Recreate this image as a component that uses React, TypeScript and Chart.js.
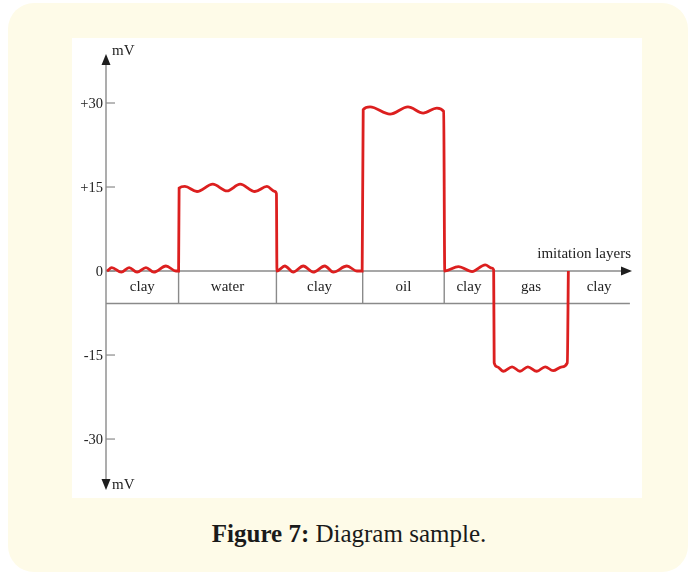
import React, { useEffect, useRef } from 'react';
import { Chart, registerables } from 'chart.js';

Chart.register(...registerables);

// Red SP curve: position along the profile (0..100) and potential (mV)
const curveX = [
  0.2, 1.1, 2.9, 4.4, 5.9, 7.6, 9.1, 11.4, 13.3, 13.8,
  13.9, 15.0, 17.3, 20.3, 23.0, 25.5, 28.3, 30.6, 32.1, 32.4,
  32.5, 34.0, 35.6, 37.5, 39.4, 41.6, 43.2, 45.8, 47.7, 48.7,
  48.9, 50.2, 54.0, 57.4, 60.3, 62.9, 64.2, 64.4,
  67.0, 69.6, 72.1, 73.4, 73.7,
  73.8, 74.4, 75.5, 77.2, 78.7, 80.2, 81.9, 83.5, 85.0, 86.7, 87.7, 87.9,
];
const curveY = [
  0.0, 0.6, -0.2, 0.6, -0.2, 0.6, -0.2, 0.9, 0.0, 0.0,
  14.8, 15.1, 14.2, 15.5, 14.3, 15.5, 14.2, 15.1, 14.2, 13.8,
  0.0, 0.9, -0.2, 0.9, -0.2, 0.9, -0.2, 0.9, 0.0, 0.0,
  28.8, 29.3, 28.0, 29.3, 28.2, 29.1, 28.5, 0.0,
  0.8, -0.1, 1.1, 0.5, 0.2,
  -16.4, -17.1, -17.9, -17.1, -17.9, -17.1, -17.9, -17.1, -17.8, -17.1, -16.4, 0.0,
];

const layerNames = ['clay', 'water', 'clay', 'oil', 'clay', 'gas', 'clay'];
const layerBounds = [0, 13.8, 32.4, 48.8, 64.3, 73.7, 87.9, 99.6];
const tableBottom = -5.8;

const yTickValues = [30, 15, 0, -15, -30];
const yTickLabels = ['+30', '+15', '0', '-15', '-30'];
const axisUnit = 'mV';
const xAxisTitle = 'imitation layers';
const captionBold = 'Figure 7:';
const captionText = ' Diagram sample.';

const X_MIN = 0;
const X_MAX = 100;
const Y_MIN = -39.1;
const Y_MAX = 38.75;

const SERIF = '"Liberation Serif", "Times New Roman", serif';

const diagramPlugin = {
  id: 'diagram',
  beforeDatasetsDraw(chart: any) {
    const { ctx, scales } = chart;
    const x = scales.x;
    const y = scales.y;
    const ax = x.getPixelForValue(X_MIN);
    const ay = y.getPixelForValue(0);
    const yTop = y.getPixelForValue(Y_MAX);
    const yBot = y.getPixelForValue(Y_MIN);
    const xEnd = x.getPixelForValue(X_MAX);
    const tb = y.getPixelForValue(tableBottom);
    const tableEnd = x.getPixelForValue(layerBounds[layerBounds.length - 1]);

    const line = (x1: number, y1: number, x2: number, y2: number) => {
      ctx.beginPath();
      ctx.moveTo(x1, y1);
      ctx.lineTo(x2, y2);
      ctx.stroke();
    };

    ctx.save();
    ctx.strokeStyle = '#8a8a8a';
    ctx.lineWidth = 1.4;
    // vertical axis
    line(ax, yTop + 8, ax, yBot - 8);
    // horizontal axis
    line(ax, ay, xEnd - 8, ay);
    // table bottom line
    line(ax, tb, tableEnd, tb);
    // layer dividers
    for (let i = 1; i < layerBounds.length - 1; i++) {
      const bx = x.getPixelForValue(layerBounds[i]);
      line(bx, ay, bx, tb);
    }
    // y ticks
    ctx.lineWidth = 1.2;
    yTickValues.forEach((v) => {
      const py = y.getPixelForValue(v);
      line(ax, py, ax + 9, py);
    });

    // arrowheads
    ctx.fillStyle = '#1e1e1e';
    ctx.beginPath();
    ctx.moveTo(ax, yTop);
    ctx.lineTo(ax - 4.5, yTop + 11);
    ctx.lineTo(ax + 4.5, yTop + 11);
    ctx.closePath();
    ctx.fill();
    ctx.beginPath();
    ctx.moveTo(ax, yBot);
    ctx.lineTo(ax - 4.5, yBot - 11);
    ctx.lineTo(ax + 4.5, yBot - 11);
    ctx.closePath();
    ctx.fill();
    ctx.beginPath();
    ctx.moveTo(xEnd, ay);
    ctx.lineTo(xEnd - 11, ay - 4.5);
    ctx.lineTo(xEnd - 11, ay + 4.5);
    ctx.closePath();
    ctx.fill();

    // texts
    ctx.fillStyle = '#222222';
    ctx.font = `14.5px ${SERIF}`;
    ctx.textAlign = 'right';
    ctx.textBaseline = 'middle';
    yTickValues.forEach((v, i) => {
      const py = y.getPixelForValue(v);
      ctx.fillText(yTickLabels[i], ax - 3, py + 1);
    });

    ctx.font = `15px ${SERIF}`;
    ctx.textAlign = 'left';
    ctx.fillText(axisUnit, ax + 6, yTop - 3);
    ctx.fillText(axisUnit, ax + 6, yBot - 5);

    ctx.font = `15px ${SERIF}`;
    ctx.textAlign = 'right';
    ctx.fillText(xAxisTitle, xEnd - 1, y.getPixelForValue(3.0));

    ctx.font = `15px ${SERIF}`;
    ctx.textAlign = 'center';
    const my = y.getPixelForValue(tableBottom / 2);
    layerNames.forEach((name, i) => {
      const cx = (x.getPixelForValue(layerBounds[i]) + x.getPixelForValue(layerBounds[i + 1])) / 2;
      ctx.fillText(name, cx, my);
    });
    ctx.restore();
  },
};

export default function App() {
  const canvasRef = useRef<HTMLCanvasElement | null>(null);

  useEffect(() => {
    if (!canvasRef.current) return;
    const data = curveX.map((xv, i) => ({ x: xv, y: curveY[i] }));
    const chart = new Chart(canvasRef.current, {
      type: 'line',
      data: {
        datasets: [
          {
            data,
            borderColor: '#dc1f1f',
            borderWidth: 2.8,
            pointRadius: 0,
            fill: false,
            cubicInterpolationMode: 'monotone',
          },
        ],
      },
      options: {
        responsive: false,
        animation: false,
        devicePixelRatio: 1,
        layout: { padding: { left: 34, right: 10, top: 16, bottom: 8 } },
        plugins: { legend: { display: false }, tooltip: { enabled: false } },
        events: [],
        scales: {
          x: { type: 'linear', min: X_MIN, max: X_MAX, display: false },
          y: { type: 'linear', min: Y_MIN, max: Y_MAX, display: false },
        },
      },
      plugins: [diagramPlugin],
    } as any);
    return () => chart.destroy();
  }, []);

  return (
    <div style={{ position: 'absolute', left: 0, top: 0, width: 693, height: 577, background: '#ffffff', overflow: 'hidden' }}>
      <div
        style={{
          position: 'absolute',
          left: 8,
          top: 3,
          width: 680,
          height: 569,
          borderRadius: 26,
          background: '#fefbe8',
        }}
      />
      <div style={{ position: 'absolute', left: 72, top: 38, width: 570, height: 460, background: '#ffffff' }}>
        <canvas ref={canvasRef} width={570} height={460} style={{ display: 'block', width: 570, height: 460 }} />
      </div>
      <div
        style={{
          position: 'absolute',
          left: 0,
          top: 519,
          width: 698,
          textAlign: 'center',
          fontFamily: SERIF,
          fontSize: 25,
          lineHeight: '30px',
          color: '#1a1a1a',
          whiteSpace: 'nowrap',
        }}
      >
        <b>{captionBold}</b>
        {captionText}
      </div>
    </div>
  );
}
